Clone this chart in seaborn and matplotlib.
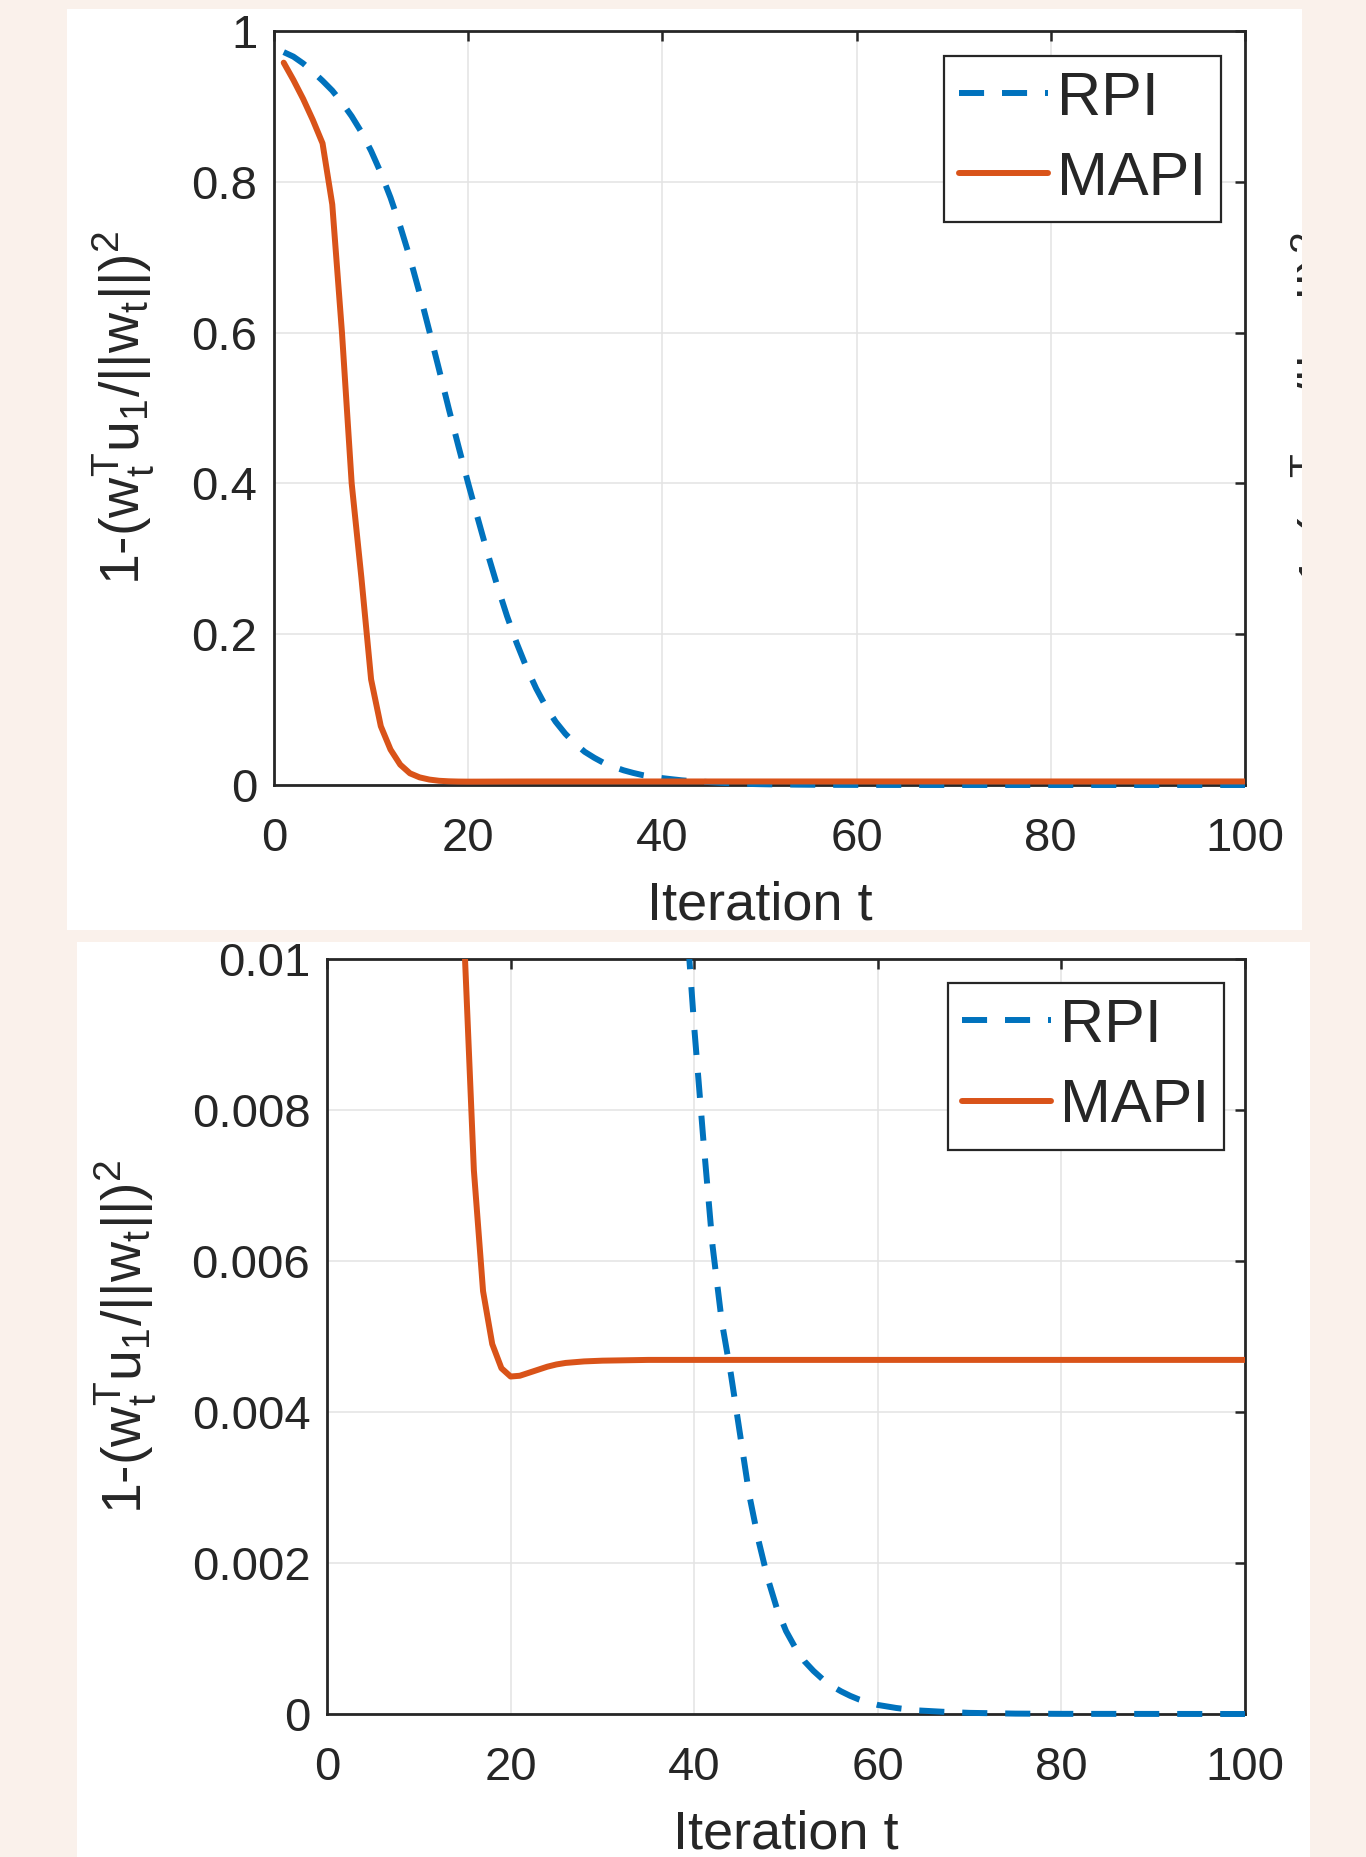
import numpy as np
import pandas as pd
import matplotlib
matplotlib.use("Agg")
import matplotlib.pyplot as plt
from matplotlib.patches import Rectangle
from matplotlib.transforms import Bbox, TransformedBbox
import seaborn as sns

# values (iteration -> 1-(w'u/||w||)^2)
rpi_iter = [1, 2, 3, 4, 5, 6, 7, 8, 9, 10, 11, 12, 13, 14, 15, 16, 17, 18, 19, 20,
            21, 22, 23, 24, 25, 26, 27, 28, 29, 30, 31, 32, 33, 34, 35, 36, 37, 38, 39, 40,
            41, 42, 43, 44, 45, 46, 47, 48, 49, 50, 51, 52, 53, 54, 55, 56, 57, 58, 59, 60,
            62, 64, 67, 70, 75, 80, 100]
rpi_vals = [0.972, 0.966, 0.957, 0.946, 0.934, 0.921, 0.905, 0.887, 0.866, 0.841,
            0.812, 0.779, 0.741, 0.699, 0.652, 0.602, 0.551, 0.499, 0.449, 0.400,
            0.353, 0.307, 0.264, 0.224, 0.188, 0.156, 0.128, 0.104, 0.084, 0.068,
            0.055, 0.044, 0.036, 0.029, 0.024, 0.0195, 0.016, 0.013, 0.0108, 0.0091,
            0.0076, 0.0062, 0.0052, 0.0045, 0.0037, 0.0029, 0.0023, 0.0018, 0.0014, 0.0011,
            0.00088, 0.0007, 0.00057, 0.00046, 0.00037, 0.0003, 0.00024, 0.00019, 0.00015, 0.00012,
            0.00008, 0.00005, 0.00003, 0.000015, 0.000005, 0.000002, 0.0]

mapi_iter = [1, 2, 3, 4, 5, 6, 7, 8, 9, 10, 11, 12, 13, 14, 15, 16, 17, 18, 19, 20,
             21, 22, 23, 24, 25, 26, 27, 28, 30, 35, 100]
mapi_vals = [0.958, 0.935, 0.910, 0.882, 0.851, 0.770, 0.600, 0.400, 0.275, 0.140,
             0.078, 0.047, 0.027, 0.0155, 0.0101, 0.0072, 0.0056, 0.0049, 0.00458, 0.00447,
             0.00448, 0.00452, 0.00456, 0.00460, 0.00463, 0.00465, 0.00466, 0.00467, 0.00468,
             0.00469, 0.00469]

methods = ["RPI", "MAPI"]
xticks = [0, 20, 40, 60, 80, 100]
xticklabels = ["0", "20", "40", "60", "80", "100"]
top_yticks = [0, 0.2, 0.4, 0.6, 0.8, 1.0]
top_yticklabels = ["0", "0.2", "0.4", "0.6", "0.8", "1"]
bot_yticks = [0, 0.002, 0.004, 0.006, 0.008, 0.01]
bot_yticklabels = ["0", "0.002", "0.004", "0.006", "0.008", "0.01"]

df = pd.concat([
    pd.DataFrame({"iter": rpi_iter, "val": rpi_vals, "method": "RPI"}),
    pd.DataFrame({"iter": mapi_iter, "val": mapi_vals, "method": "MAPI"}),
], ignore_index=True)

sns.set_style("white")
plt.rcParams["font.family"] = ["Liberation Sans", "DejaVu Sans"]
plt.rcParams["mathtext.fontset"] = "custom"
plt.rcParams["mathtext.rm"] = "Liberation Sans"
plt.rcParams["mathtext.it"] = "Liberation Sans"
plt.rcParams["mathtext.default"] = "regular"

W, H = 1366, 1857
BG = "#faf1eb"
DARK = "#262626"
palette = {"RPI": "#0072BD", "MAPI": "#D95319"}
ylabel = "1-(w$_t^T$u$_1$/||w$_t$||)$^2$"
LW = 4.3

fig = plt.figure(figsize=(W / 100, H / 100), dpi=100, facecolor=BG)


def px_rect(x0, y0, x1, y1):
    return [x0 / W, 1 - y1 / H, (x1 - x0) / W, (y1 - y0) / H]


# white panels (two screenshots pasted on a tinted page)
panels = []
for (x0, y0, x1, y1) in [(67, 9, 1302, 930), (77, 942, 1310, 1857)]:
    r = Rectangle((x0 / W, 1 - y1 / H), (x1 - x0) / W, (y1 - y0) / H,
                  transform=fig.transFigure, facecolor="white", edgecolor="none", zorder=0)
    fig.add_artist(r)
    panels.append(r)

ax_top = fig.add_axes(px_rect(274, 31, 1245, 785))
ax_bot = fig.add_axes(px_rect(327, 959, 1245, 1714))

setups = [
    (ax_top, top_yticks, top_yticklabels, (0, 1), (0.975, 0.967)),
    (ax_bot, bot_yticks, bot_yticklabels, (0, 0.01), (0.977, 0.968)),
]

for ax, yt, ytl, ylim, leg_anchor in setups:
    sns.lineplot(data=df, x="iter", y="val", hue="method",
                 hue_order=methods, palette=palette, linewidth=LW,
                 estimator=None, legend=False, ax=ax, zorder=3)
    # MATLAB style dashed RPI line
    ax.lines[0].set_linewidth(LW)
    ax.lines[0].set_linestyle((0, (4.2, 3.0)))
    ax.set_xlim(0, 100)
    ax.set_ylim(*ylim)
    ax.set_xticks(xticks)
    ax.set_xticklabels(xticklabels)
    ax.set_yticks(yt)
    ax.set_yticklabels(ytl)
    ax.grid(True, color="#e3e3e3", linewidth=1.1)
    ax.set_axisbelow(True)
    for s in ax.spines.values():
        s.set_visible(True)
        s.set_color(DARK)
        s.set_linewidth(2.0)
    ax.tick_params(direction="in", length=7.5, width=1.8, color=DARK,
                   top=True, right=True, labelsize=34, labelcolor=DARK)
    ax.tick_params(axis="x", pad=23)
    ax.tick_params(axis="y", pad=12)
    ax.set_xlabel("Iteration t", fontsize=39, color=DARK, labelpad=14)
    ax.set_ylabel(ylabel, fontsize=40, color=DARK)
    # let the lines sit on top of the x axis like the original
    clip = TransformedBbox(Bbox([[0, -0.015], [1, 1]]), ax.transAxes)
    for ln in ax.lines:
        ln.set_clip_box(clip)
    handles = [ax.lines[0], ax.lines[1]]
    leg = ax.legend(handles, methods, loc="upper right", bbox_to_anchor=leg_anchor,
                    borderaxespad=0, fontsize=44, frameon=True, fancybox=False,
                    framealpha=1, edgecolor=DARK, handlelength=1.45,
                    handletextpad=0.15, labelspacing=0.38, borderpad=0.24)
    leg.get_frame().set_linewidth(1.6)

ax_top.yaxis.set_label_coords(-0.155, 0.5)
ax_bot.yaxis.set_label_coords(-0.22, 0.5)
for ax in (ax_top, ax_bot):
    ax.yaxis.label.set_va("center")

# label of the neighbouring screenshot, cut off at the panel edge
frag = fig.text(1290 / W, 1 - 409 / H, ylabel, fontsize=40, color=DARK,
                rotation=90, ha="left", va="center")
frag.set_clip_path(panels[0])

fig.savefig("out.png", dpi=100, facecolor=BG)
